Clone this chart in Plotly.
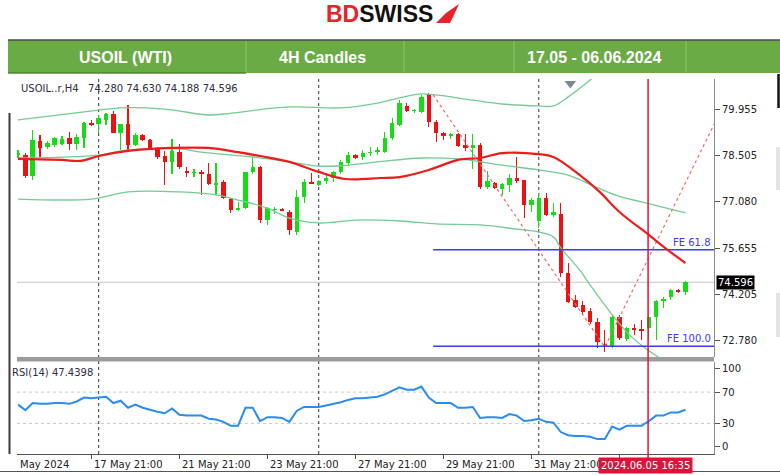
import plotly.graph_objects as go

# ---------------- data ----------------
opens = [78.53, 78.53, 77.88, 78.96, 78.78, 78.84, 78.87, 79.06, 78.87, 79.06,
         79.52, 79.49, 79.62, 79.80, 79.21, 79.49, 78.84, 79.15, 78.99, 78.75,
         78.50, 78.32, 78.62, 78.04, 77.98, 78.01, 77.94, 77.60, 77.70, 77.17,
         76.83, 76.89, 78.01, 78.16, 76.52, 76.83, 76.86, 76.77, 76.15, 77.23,
         77.70, 77.60, 77.73, 77.82, 78.01, 78.28, 78.53, 78.47, 78.59, 78.62,
         78.62, 79.06, 79.46, 80.05, 79.89, 79.86, 80.42, 79.55, 79.21, 79.12,
         79.18, 78.84, 78.75, 78.84, 77.54, 77.67, 77.48, 77.60, 77.82, 77.76,
         76.99, 76.50, 77.20, 76.68, 76.71, 74.88, 74.05, 73.89, 73.71, 73.37,
         72.70, 72.60, 73.52, 72.84, 73.18, 73.15, 73.18, 73.52, 74.01, 74.14,
         74.36, 74.28]
highs = [78.69, 78.59, 79.31, 79.15, 78.96, 79.09, 79.12, 79.24, 79.18, 79.55,
         79.62, 79.77, 79.83, 79.89, 79.49, 80.08, 79.21, 79.18, 79.02, 78.78,
         78.65, 79.03, 78.87, 78.16, 78.10, 78.07, 78.28, 78.28, 77.76, 77.20,
         77.08, 78.01, 78.47, 78.19, 76.92, 76.92, 76.89, 76.83, 77.45, 77.79,
         77.98, 77.76, 77.98, 78.04, 78.38, 78.62, 78.56, 78.69, 78.78, 78.78,
         79.24, 79.68, 80.23, 80.14, 79.95, 80.39, 80.45, 79.62, 79.24, 79.21,
         79.21, 79.18, 79.18, 78.90, 78.04, 77.70, 77.67, 77.94, 78.47, 77.76,
         77.20, 77.36, 77.36, 77.05, 77.05, 75.19, 74.20, 74.01, 73.80, 73.49,
         73.12, 73.58, 73.58, 73.21, 73.31, 73.43, 73.58, 74.05, 74.14, 74.40,
         74.40, 74.63]
lows = [78.44, 77.82, 77.76, 78.47, 78.72, 78.78, 78.84, 78.69, 78.69, 78.75,
        79.43, 79.21, 79.46, 79.21, 78.69, 78.62, 78.81, 78.96, 78.69, 78.41,
        77.60, 77.94, 78.10, 77.85, 77.85, 77.30, 77.60, 77.30, 77.17, 76.74,
        76.80, 76.86, 77.94, 76.43, 76.37, 76.71, 76.80, 76.06, 76.06, 77.05,
        77.63, 77.57, 77.63, 77.70, 77.94, 78.22, 78.41, 78.38, 78.50, 78.53,
        78.59, 78.99, 79.43, 79.86, 79.83, 79.83, 79.40, 78.93, 78.99, 79.02,
        78.78, 78.66, 78.10, 77.48, 77.48, 77.48, 77.30, 77.39, 77.66, 76.58,
        76.77, 76.27, 76.65, 76.61, 74.76, 73.95, 73.80, 73.60, 73.30, 72.56,
        72.44, 72.56, 72.81, 72.78, 72.96, 72.81, 72.81, 72.81, 73.80, 74.05,
        74.27, 74.188]
closes = [78.59, 77.88, 78.99, 78.75, 78.90, 79.06, 79.03, 78.87, 79.09, 79.52,
          79.46, 79.68, 79.80, 79.21, 79.49, 78.84, 79.15, 78.99, 78.75, 78.47,
          78.32, 78.66, 78.16, 77.98, 78.01, 77.94, 77.63, 77.66, 77.20, 76.83,
          76.89, 78.01, 78.16, 76.52, 76.89, 76.86, 76.80, 76.21, 77.23, 77.70,
          77.63, 77.73, 77.82, 78.01, 78.32, 78.53, 78.44, 78.59, 78.62, 78.69,
          79.06, 79.52, 80.14, 79.89, 79.92, 80.33, 79.55, 79.21, 79.12, 79.18,
          78.81, 78.75, 78.84, 77.54, 77.73, 77.51, 77.63, 77.82, 77.73, 76.99,
          77.14, 77.20, 76.68, 76.77, 74.88, 73.98, 73.83, 73.68, 73.37, 72.74,
          72.60, 73.52, 72.87, 73.18, 73.12, 73.09, 73.52, 74.01, 74.07, 74.36,
          74.30, 74.596]

rsi = [54, 47, 56, 55, 55, 56, 56, 55, 58, 63,
       62, 63, 64, 56, 59, 50, 54, 50, 47, 45,
       43, 49, 41, 40, 40, 40, 36, 35, 32, 27,
       27, 50, 50, 33, 38, 38, 37, 32, 46, 51,
       51, 51, 53, 55, 57, 60, 62, 62, 63, 64,
       67, 71, 76, 73, 73, 77, 63, 56, 56, 56,
       50, 50, 51, 37, 38, 38, 37, 42, 40, 33,
       34, 36, 32, 31, 19, 15, 14, 14, 13, 10,
       10, 26, 22, 27, 27, 27, 33, 40, 40, 44,
       44, 47.44]

upper_idx = [0, 11, 14, 20, 26, 28, 37, 44, 49, 52, 55, 57, 62, 66, 71, 73, 75, 78, 82]
upper_val = [79.62, 79.92, 79.99, 79.95, 79.77, 79.80, 80.02, 79.99, 80.14, 80.30,
             80.42, 80.39, 80.23, 80.11, 80.05, 80.05, 80.33, 80.85, 81.60]
mid_idx = [0, 11, 15, 22, 25, 32, 37, 41, 44, 49, 55, 60, 66, 71, 75, 79, 82, 85, 91]
mid_val = [78.44, 78.53, 78.69, 78.72, 78.62, 78.47, 78.32, 78.19, 78.20, 78.32,
           78.44, 78.41, 78.22, 78.07, 77.91, 77.52, 77.25, 77.08, 76.74]
low_idx = [0, 10, 15, 22, 27, 30, 34, 37, 41, 46, 52, 57, 63, 68, 71, 73, 74, 76.6, 78, 80.7, 83.4, 85.5, 87.5]
low_val = [77.17, 77.17, 77.39, 77.39, 77.30, 77.14, 76.89, 76.58, 76.43, 76.52,
           76.49, 76.40, 76.37, 76.24, 76.15, 76.00, 75.66, 74.97, 74.51, 73.68,
           72.96, 72.56, 72.25]
ma_idx = [0, 6, 8.5, 11, 15, 21, 26, 30, 33, 37, 41, 44.6, 49.4, 52, 56, 60, 63, 66,
          71, 73, 76.6, 79.3, 82, 86, 88.2, 91]
ma_val = [78.41, 78.38, 78.35, 78.50, 78.66, 78.75, 78.75, 78.62, 78.50, 78.32,
          78.01, 77.79, 77.82, 77.85, 78.07, 78.38, 78.44, 78.59, 78.56, 78.47,
          77.91, 77.39, 76.77, 76.06, 75.66, 75.19]

fib_idx = [56.6, 80.0, 96.0]
fib_val = [80.39, 72.59, 79.99]
fe_levels = [75.60, 72.62]
fe_labels = ["FE 61.8", "FE 100.0"]
fe_start = 56.6
last_price = 74.596

price_ticks = [79.955, 78.505, 77.080, 75.655, 74.205, 72.780]
price_text = ["79.955", "78.505", "77.080", "75.655", "74.205", "72.780"]
rsi_ticks = [0, 30, 70, 100]
time_tick_idx = [10, 22, 34, 46, 58, 70, 82]
time_tick_text = ["17 May 21:00", "21 May 21:00", "23 May 21:00", "27 May 21:00",
                  "29 May 21:00", "31 May 21:00", ""]
week_sep_idx = [11, 41, 71]
cursor_idx = 85.9
cursor_text = "2024.06.05 16:35"
header_cells = ["USOIL (WTI)", "4H Candles", "17.05 - 06.06.2024"]

# ---------------- geometry helpers ----------------
W, H = 780, 475
ML, MR, MT, MB = 17, 66, 79, 21
PW = W - ML - MR
PH = H - MT - MB


def X(px):
    return (px - ML) / PW


def Y(py):
    return (H - MB - py) / PH


GREEN = "#16dc16"
RED = "#ee1111"
FONT = "DejaVu Sans"

n = len(closes)
xs = list(range(n))
up = [i for i in xs if closes[i] >= opens[i]]
dn = [i for i in xs if closes[i] < opens[i]]

fig = go.Figure()


def add_candles(idx, color):
    fig.add_trace(go.Bar(
        x=idx, base=[lows[i] for i in idx], y=[highs[i] - lows[i] for i in idx],
        width=0.15, marker=dict(color=color, line=dict(width=0)),
        xaxis="x", yaxis="y", hoverinfo="skip"))
    fig.add_trace(go.Bar(
        x=idx, base=[min(opens[i], closes[i]) for i in idx],
        y=[max(abs(closes[i] - opens[i]), 0.035) for i in idx],
        width=0.6, marker=dict(color=color, line=dict(width=0)),
        xaxis="x", yaxis="y", hoverinfo="skip"))


# bands
band_col = "#74cb95"
fig.add_trace(go.Scatter(x=upper_idx, y=upper_val, mode="lines", line=dict(color=band_col, width=1.3, shape="spline"), hoverinfo="skip"))
fig.add_trace(go.Scatter(x=mid_idx, y=mid_val, mode="lines", line=dict(color=band_col, width=1.3, shape="spline"), hoverinfo="skip"))
fig.add_trace(go.Scatter(x=low_idx, y=low_val, mode="lines", line=dict(color=band_col, width=1.3, shape="spline"), hoverinfo="skip"))

# fibo expansion lines
fig.add_trace(go.Scatter(x=fib_idx, y=fib_val, mode="lines", line=dict(color="#f36a6a", width=1.2, dash="dot"), hoverinfo="skip"))
for lv in fe_levels:
    fig.add_trace(go.Scatter(x=[fe_start, 100], y=[lv, lv], mode="lines", line=dict(color="#3a3aff", width=1.5), hoverinfo="skip"))

add_candles(up, GREEN)
add_candles(dn, RED)

# moving average (red)
fig.add_trace(go.Scatter(x=ma_idx, y=ma_val, mode="lines", line=dict(color="#ec1c1c", width=2.2, shape="spline"), hoverinfo="skip"))

# small gray marker at top
fig.add_trace(go.Scatter(x=[75.3], y=[80.74], mode="markers", marker=dict(symbol="triangle-down", size=10, color="#7d8893"), cliponaxis=False, hoverinfo="skip"))

# RSI
fig.add_trace(go.Scatter(x=xs, y=rsi, mode="lines", line=dict(color="#2a8cf0", width=2), xaxis="x2", yaxis="y2", hoverinfo="skip"))

x0 = -1.0 / 7.335
x1 = x0 + PW / 7.335

shapes = []
# current price line
shapes.append(dict(type="line", xref="paper", yref="y", x0=0, x1=1, y0=last_price, y1=last_price,
                   line=dict(color="#c4c4c4", width=1), layer="below"))
# rsi grid 30/70
for lv in [30, 70]:
    shapes.append(dict(type="line", xref="paper", yref="y2", x0=0, x1=1, y0=lv, y1=lv,
                       line=dict(color="#c8c8c8", width=1, dash="dot"), layer="below"))
# week separators
for s in week_sep_idx:
    shapes.append(dict(type="line", xref="x", yref="paper", x0=s, x1=s, y0=0, y1=1,
                       line=dict(color="#333333", width=1, dash="dot"), layer="below"))
# panel separator bar
shapes.append(dict(type="rect", xref="paper", yref="paper", x0=0, x1=1, y0=Y(361.5), y1=Y(357),
                   fillcolor="#9c9c9c", line=dict(width=0)))
# cursor line
shapes.append(dict(type="line", xref="x", yref="paper", x0=cursor_idx, x1=cursor_idx, y0=Y(458), y1=1,
                   line=dict(color="#e0143c", width=1.5)))
# left border artifact
shapes.append(dict(type="line", xref="paper", yref="paper", x0=X(9.5), x1=X(9.5), y0=Y(454), y1=Y(113),
                   line=dict(color="#3a3a3a", width=2)))
# bottom border
shapes.append(dict(type="line", xref="paper", yref="paper", x0=X(0), x1=X(780), y0=Y(471.5), y1=Y(471.5),
                   line=dict(color="#555555", width=1)))
# right edge artifacts
shapes.append(dict(type="line", xref="paper", yref="paper", x0=X(778.5), x1=X(778.5), y0=Y(108), y1=Y(74),
                   line=dict(color="#111111", width=2.5)))
for ya, yb in [(147, 190), (293, 337)]:
    shapes.append(dict(type="rect", xref="paper", yref="paper", x0=X(776), x1=X(781), y0=Y(yb), y1=Y(ya),
                       fillcolor="#e4e4e4", line=dict(width=0)))
# header bar
shapes.append(dict(type="rect", xref="paper", yref="paper", x0=X(8), x1=X(781), y0=Y(73), y1=Y(40),
                   fillcolor="#6aab45", line=dict(width=0)))
shapes.append(dict(type="line", xref="paper", yref="paper", x0=X(8), x1=X(781), y0=Y(40), y1=Y(40),
                   line=dict(color="#4a4a4a", width=1.5)))
shapes.append(dict(type="line", xref="paper", yref="paper", x0=X(8), x1=X(246), y0=Y(73), y1=Y(73),
                   line=dict(color="#4e8a2e", width=1.5)))
for sx in [246, 404, 514, 686]:
    shapes.append(dict(type="line", xref="paper", yref="paper", x0=X(sx), x1=X(sx), y0=Y(72), y1=Y(41),
                       line=dict(color="#8cc46c", width=1)))
# logo flag
shapes.append(dict(type="path", xref="paper", yref="paper",
                   path=f"M {X(436)},{Y(23)} L {X(446)},{Y(13)} L {X(459)},{Y(4)} L {X(454)},{Y(15)} L {X(450)},{Y(23)} Z",
                   fillcolor="#e8232a", line=dict(width=0)))

annotations = []
annotations.append(dict(xref="paper", yref="paper", x=X(19), y=Y(89), xanchor="left", yanchor="middle",
                        text="USOIL..r,H4\u00a0\u00a0 74.280 74.630 74.188 74.596", showarrow=False,
                        font=dict(family=FONT, size=10, color="#2e2e3e")))
annotations.append(dict(xref="paper", yref="paper", x=X(10), y=Y(372), xanchor="left", yanchor="middle",
                        text="RSI(14) 47.4398", showarrow=False,
                        font=dict(family=FONT, size=10, color="#2e2e3e")))
annotations.append(dict(xref="paper", yref="y", x=1, y=last_price, xanchor="left", yanchor="middle", xshift=2,
                        text="74.596", showarrow=False, bgcolor="#000000", borderpad=1,
                        font=dict(family=FONT, size=10, color="#ffffff")))
for lv, lab in zip(fe_levels, fe_labels):
    annotations.append(dict(xref="paper", yref="y", x=1, y=lv, xanchor="right", yanchor="bottom", xshift=-1, yshift=0,
                            text=lab, showarrow=False, font=dict(family=FONT, size=10, color="#3a3aff")))
# time labels
annotations.append(dict(xref="paper", yref="paper", x=X(18), y=Y(457), xanchor="left", yanchor="top",
                        text="May 2024", showarrow=False, font=dict(family=FONT, size=10, color="#222222")))
for ti, tt in zip(time_tick_idx, time_tick_text):
    if tt:
        annotations.append(dict(xref="x", yref="paper", x=ti, y=Y(457), xanchor="left", yanchor="top", xshift=1,
                                text=tt, showarrow=False, font=dict(family=FONT, size=10, color="#222222")))
annotations.append(dict(xref="x", yref="paper", x=79.1, y=Y(456.5), xanchor="left", yanchor="top",
                        text=cursor_text, showarrow=False, bgcolor="#dc143c", borderpad=2,
                        font=dict(family=FONT, size=10, color="#ffffff")))
# header texts
for cx, txt in zip([126, 322, 594], header_cells):
    annotations.append(dict(xref="paper", yref="paper", x=X(cx), y=Y(57), xanchor="center", yanchor="middle",
                            text=f"<b>{txt}</b>", showarrow=False,
                            font=dict(family="Liberation Sans", size=16, color="#ffffff")))
# logo
annotations.append(dict(xref="paper", yref="paper", x=X(435), y=Y(14), xanchor="right", yanchor="middle",
                        text="<b><span style='color:#e8232a'>BD</span><span style='color:#111111'>SWISS</span></b>",
                        showarrow=False, font=dict(family="Liberation Sans", size=23)))

fig.update_layout(
    width=W, height=H,
    margin=dict(l=ML, r=MR, t=MT, b=MB, autoexpand=False),
    paper_bgcolor="white", plot_bgcolor="white",
    showlegend=False, barmode="overlay", bargap=0, hovermode=False,
    font=dict(family=FONT, size=10, color="#222222"),
    xaxis=dict(domain=[0, 1], range=[x0, x1], anchor="y", showticklabels=False, showgrid=False,
               zeroline=False, showline=False, ticks=""),
    yaxis=dict(domain=[Y(357), 1], range=[79.955 - (357 - 109) / 32.33, 79.955 + (109 - MT) / 32.33],
               side="right", anchor="x", tickvals=price_ticks, ticktext=price_text, ticks="outside",
               ticklen=5, tickcolor="#555555", showline=True, linecolor="#8a8a8a", linewidth=1,
               showgrid=False, zeroline=False, tickfont=dict(family=FONT, size=10, color="#222222")),
    xaxis2=dict(domain=[0, 1], range=[x0, x1], anchor="y2", showticklabels=False, showgrid=False,
                zeroline=False, showline=True, linecolor="#555555", linewidth=1, ticks="outside",
                ticklen=4, tickcolor="#555555", tickvals=time_tick_idx),
    yaxis2=dict(domain=[0, Y(361.5)], range=[-9, 109], side="right", anchor="x2", tickvals=rsi_ticks,
                ticks="outside", ticklen=5, tickcolor="#555555", showline=True, linecolor="#8a8a8a",
                linewidth=1, showgrid=False, zeroline=False,
                tickfont=dict(family=FONT, size=10, color="#222222")),
    shapes=shapes, annotations=annotations,
)

fig.write_html("out.html", config={"displayModeBar": False, "staticPlot": True},
               post_script="document.body.style.margin='0px';document.body.style.overflow='hidden';")
